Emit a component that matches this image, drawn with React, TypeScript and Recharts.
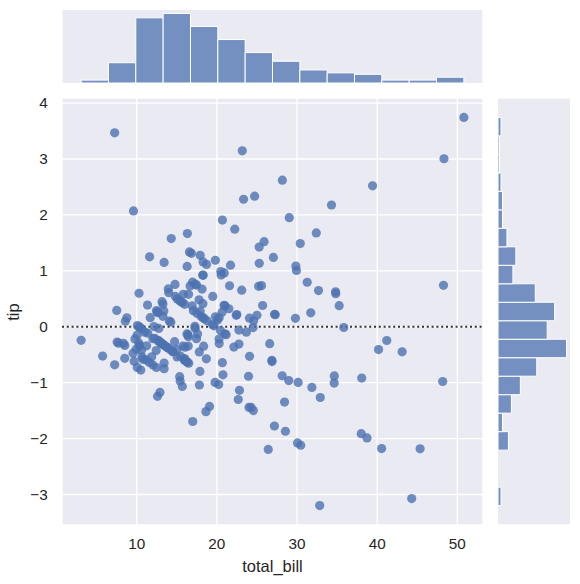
import React from 'react';
import {
  ScatterChart,
  Scatter,
  XAxis,
  YAxis,
  CartesianGrid,
  ReferenceLine,
  ReferenceArea,
  Label,
} from 'recharts';

// ---- data (tips dataset: total_bill, tip) ----
const totalBill = [
  16.99, 10.34, 21.01, 23.68, 24.59, 25.29, 8.77, 26.88, 15.04, 14.78,
  10.27, 35.26, 15.42, 18.43, 14.83, 21.58, 10.33, 16.29, 16.97, 20.65,
  17.92, 20.29, 15.77, 39.42, 19.82, 17.81, 13.37, 12.69, 21.7, 19.65,
  9.55, 18.35, 15.06, 20.69, 17.78, 24.06, 16.31, 16.93, 18.69, 31.27,
  16.04, 17.46, 13.94, 9.68, 30.4, 18.29, 22.23, 32.4, 28.55, 18.04,
  12.54, 10.29, 34.81, 9.94, 25.56, 19.49, 38.01, 26.41, 11.24, 48.27,
  20.29, 13.81, 11.02, 18.29, 17.59, 20.08, 16.45, 3.07, 20.23, 15.01,
  12.02, 17.07, 26.86, 25.28, 14.73, 10.51, 17.92, 27.2, 22.76, 17.29,
  19.44, 16.66, 10.07, 32.68, 15.98, 34.83, 13.03, 18.28, 24.71, 21.16,
  28.97, 22.49, 5.75, 16.32, 22.75, 40.17, 27.28, 12.03, 21.01, 12.46,
  11.35, 15.38, 44.3, 22.42, 20.92, 15.36, 20.49, 25.21, 18.24, 14.31,
  14.0, 7.25, 38.07, 23.95, 25.71, 17.31, 29.93, 10.65, 12.43, 24.08,
  11.69, 13.42, 14.26, 15.95, 12.48, 29.8, 8.52, 14.52, 11.38, 22.82,
  19.08, 20.27, 11.17, 12.26, 18.26, 8.51, 10.33, 14.15, 16.0, 13.16,
  17.47, 34.3, 41.19, 27.05, 16.43, 8.35, 18.64, 11.87, 9.78, 7.51,
  14.07, 13.13, 17.26, 24.55, 19.77, 29.85, 48.17, 25.0, 13.39, 16.49,
  21.5, 12.66, 16.21, 13.81, 17.51, 24.52, 20.76, 31.71, 10.59, 10.63,
  50.81, 15.81, 7.25, 31.85, 16.82, 32.9, 17.89, 14.48, 9.6, 34.63,
  34.65, 23.33, 45.35, 23.17, 40.55, 20.69, 20.9, 30.46, 18.15, 23.1,
  15.69, 19.81, 28.44, 15.48, 16.58, 7.56, 10.34, 43.11, 13.0, 13.51,
  18.71, 12.74, 13.0, 16.4, 20.53, 16.47, 26.59, 38.73, 24.27, 12.76,
  30.06, 25.89, 48.33, 13.27, 28.17, 12.9, 28.15, 11.59, 7.74, 30.14,
  12.16, 13.42, 8.58, 15.98, 13.42, 16.27, 10.09, 20.45, 13.28, 22.12,
  24.01, 15.69, 11.61, 10.77, 15.53, 10.07, 12.6, 32.83, 35.83, 29.03,
  27.18, 22.67, 17.82, 18.78,
];

const tip = [
  1.01, 1.66, 3.5, 3.31, 3.61, 4.71, 2.0, 3.12, 1.96, 3.23,
  1.71, 5.0, 1.57, 3.0, 3.02, 3.92, 1.67, 3.71, 3.5, 3.35,
  4.08, 2.75, 2.23, 7.58, 3.18, 2.34, 2.0, 2.0, 4.3, 3.0,
  1.45, 2.5, 3.0, 2.45, 3.27, 3.6, 2.0, 3.07, 2.31, 5.0,
  2.24, 2.54, 3.06, 1.32, 5.6, 3.0, 5.0, 6.0, 2.05, 3.0,
  2.5, 2.6, 5.2, 1.56, 4.34, 3.51, 3.0, 1.5, 1.76, 6.73,
  3.21, 2.0, 1.98, 3.76, 2.64, 3.15, 2.47, 1.0, 2.01, 2.09,
  1.97, 3.0, 3.14, 5.0, 2.2, 1.25, 3.08, 4.0, 3.0, 2.71,
  3.0, 3.4, 1.83, 5.0, 2.03, 5.17, 2.0, 4.0, 5.85, 3.0,
  3.0, 3.5, 1.0, 4.3, 3.25, 4.73, 4.0, 1.5, 3.0, 1.5,
  2.5, 3.0, 2.5, 3.48, 4.08, 1.64, 4.06, 4.29, 3.76, 4.0,
  3.0, 1.0, 4.0, 2.55, 4.0, 3.5, 5.07, 1.5, 1.8, 2.92,
  2.31, 1.68, 2.5, 2.0, 2.52, 4.2, 1.48, 2.0, 2.0, 2.18,
  1.5, 2.83, 1.5, 2.0, 3.25, 1.25, 2.0, 2.0, 2.0, 2.75,
  3.5, 6.7, 5.0, 5.0, 2.3, 1.5, 1.36, 1.63, 1.73, 2.0,
  2.5, 2.0, 2.74, 2.0, 2.0, 5.14, 5.0, 3.75, 2.61, 2.0,
  3.5, 2.5, 2.0, 2.0, 3.0, 3.48, 2.24, 4.5, 1.61, 2.0,
  10.0, 3.16, 5.15, 3.18, 4.0, 3.11, 2.0, 2.0, 4.0, 3.55,
  3.68, 5.65, 3.5, 6.5, 3.0, 5.0, 3.5, 2.0, 3.5, 4.0,
  1.5, 4.19, 2.56, 2.02, 4.0, 1.44, 2.0, 5.0, 2.0, 2.0,
  4.0, 2.01, 2.0, 2.5, 4.0, 3.23, 3.41, 3.0, 2.03, 2.23,
  2.0, 5.16, 9.0, 2.5, 6.5, 1.1, 3.0, 1.5, 1.44, 3.09,
  2.2, 3.48, 1.92, 3.0, 1.58, 2.5, 2.0, 3.0, 2.72, 2.88,
  2.0, 3.0, 3.39, 1.47, 3.0, 1.25, 1.0, 1.17, 4.67, 5.92,
  2.0, 2.0, 1.75, 3.0,
];

const xTicks = [10, 20, 30, 40, 50];
const yTicks = [-3, -2, -1, 0, 1, 2, 3, 4];

const xLabel = 'total_bill';
const yLabel = 'tip';

// ---- derived tables (residuals of a linear fit, histogram bins) ----
function fitLine(xs: number[], ys: number[]) {
  const n = xs.length;
  const mx = xs.reduce((a, b) => a + b, 0) / n;
  const my = ys.reduce((a, b) => a + b, 0) / n;
  let sxy = 0;
  let sxx = 0;
  for (let i = 0; i < n; i++) {
    sxy += (xs[i] - mx) * (ys[i] - my);
    sxx += (xs[i] - mx) * (xs[i] - mx);
  }
  const slope = sxy / sxx;
  return { slope, intercept: my - slope * mx };
}

const fit = fitLine(totalBill, tip);
const residuals = tip.map((t, i) => t - (fit.intercept + fit.slope * totalBill[i]));
const points = totalBill.map((x, i) => ({ x, y: residuals[i] }));

function percentile(sorted: number[], p: number) {
  const idx = p * (sorted.length - 1);
  const lo = Math.floor(idx);
  const hi = Math.ceil(idx);
  return sorted[lo] + (sorted[hi] - sorted[lo]) * (idx - lo);
}

function histogram(vals: number[]) {
  const sorted = [...vals].sort((a, b) => a - b);
  const n = sorted.length;
  const lo = sorted[0];
  const hi = sorted[n - 1];
  const range = hi - lo;
  const sturges = range / (Math.log2(n) + 1);
  const iqr = percentile(sorted, 0.75) - percentile(sorted, 0.25);
  const fd = 2 * iqr * Math.pow(n, -1 / 3);
  const width = fd > 0 ? Math.min(fd, sturges) : sturges;
  const nb = Math.max(1, Math.ceil(range / width));
  const counts = new Array(nb).fill(0);
  vals.forEach((v) => {
    let k = Math.floor(((v - lo) / range) * nb);
    if (k >= nb) k = nb - 1;
    if (k < 0) k = 0;
    counts[k] += 1;
  });
  return counts.map((c, i) => ({
    lo: lo + (range * i) / nb,
    hi: lo + (range * (i + 1)) / nb,
    count: c,
  }));
}

const xBins = histogram(totalBill);
const yBins = histogram(residuals);

function padded(vals: number[]): [number, number] {
  const mn = Math.min(...vals);
  const mx = Math.max(...vals);
  const pad = (mx - mn) * 0.05;
  return [mn - pad, mx + pad];
}

const xDomain = padded(totalBill);
const yDomain = padded(residuals);
const topMax = Math.max(...xBins.map((b) => b.count)) * 1.05;
const rightMax = Math.max(...yBins.map((b) => b.count)) * 1.05;

const topAnchors = xBins.map((b) => ({ x: (b.lo + b.hi) / 2, y: b.count }));
const rightAnchors = yBins.map((b) => ({ x: b.count, y: (b.lo + b.hi) / 2 }));

// ---- styles ----
const BG = '#EAEAF2';
const BLUE = '#4C72B0';
const TEXT = '#262626';
const FONT = '"Liberation Sans", Arial, Helvetica, sans-serif';

const fmtTick = (v: number) => (v < 0 ? '\u2212' + String(-v) : String(v));
const Nothing = () => <g />;
const Dot = (props: any) => (
  <circle cx={props.cx} cy={props.cy} r={4.6} fill={BLUE} fillOpacity={0.8} stroke="none" />
);

export default function App() {
  return (
    <div style={{ position: 'absolute', left: 0, top: 0, width: 580, height: 584, background: '#fff', fontFamily: FONT }}>
      {/* top marginal histogram */}
      <div style={{ position: 'absolute', left: 62, top: 10, width: 421, height: 73 }}>
        <ScatterChart width={421} height={73} margin={{ top: 0, right: 0, bottom: 0, left: 0 }}>
          <CartesianGrid stroke="#fff" strokeWidth={1.3} fill={BG} fillOpacity={1} horizontal={false} vertical />
          <XAxis
            type="number"
            dataKey="x"
            domain={xDomain}
            allowDataOverflow
            ticks={xTicks}
            interval={0}
            height={0}
            tick={false}
            tickLine={false}
            axisLine={false}
          />
          <YAxis
            type="number"
            dataKey="y"
            domain={[0, topMax]}
            allowDataOverflow
            width={0}
            tick={false}
            tickLine={false}
            axisLine={false}
          />
          {xBins
            .filter((b) => b.count > 0)
            .map((b, i) => (
              <ReferenceArea
                key={'xb' + i}
                x1={b.lo}
                x2={b.hi}
                y1={0}
                y2={b.count}
                fill={BLUE}
                fillOpacity={0.75}
                stroke="#fff"
                strokeWidth={1}
                strokeOpacity={1}
              />
            ))}
          <Scatter data={topAnchors} shape={Nothing} isAnimationActive={false} />
        </ScatterChart>
      </div>

      {/* right marginal histogram */}
      <div style={{ position: 'absolute', left: 498, top: 98, width: 72, height: 427 }}>
        <ScatterChart width={72} height={427} margin={{ top: 0, right: 0, bottom: 0, left: 0 }}>
          <CartesianGrid stroke="#fff" strokeWidth={1.3} fill={BG} fillOpacity={1} horizontal vertical={false} />
          <XAxis
            type="number"
            dataKey="x"
            domain={[0, rightMax]}
            allowDataOverflow
            height={0}
            tick={false}
            tickLine={false}
            axisLine={false}
          />
          <YAxis
            type="number"
            dataKey="y"
            domain={yDomain}
            allowDataOverflow
            ticks={yTicks}
            interval={0}
            width={0}
            tick={false}
            tickLine={false}
            axisLine={false}
          />
          {yBins
            .filter((b) => b.count > 0)
            .map((b, i) => (
              <ReferenceArea
                key={'yb' + i}
                x1={0}
                x2={b.count}
                y1={b.lo}
                y2={b.hi}
                fill={BLUE}
                fillOpacity={0.75}
                stroke="#fff"
                strokeWidth={1}
                strokeOpacity={1}
              />
            ))}
          <Scatter data={rightAnchors} shape={Nothing} isAnimationActive={false} />
        </ScatterChart>
      </div>

      {/* joint residual plot */}
      <div style={{ position: 'absolute', left: 0, top: 90, width: 490, height: 494 }}>
        <ScatterChart width={490} height={494} margin={{ top: 8, right: 7, bottom: 0, left: 0 }}>
          <CartesianGrid stroke="#fff" strokeWidth={1.3} fill={BG} fillOpacity={1} />
          <XAxis
            type="number"
            dataKey="x"
            domain={xDomain}
            allowDataOverflow
            ticks={xTicks}
            interval={0}
            tickLine={false}
            axisLine={false}
            tickSize={0}
            tickMargin={13.5}
            height={59}
            tickFormatter={fmtTick}
            tick={{ fill: TEXT, fontSize: 15.3, fontFamily: FONT }}
          >
            <Label
              content={() => (
                <text x={272.5} y={481.5} textAnchor="middle" fill={TEXT} fontSize={16.5} fontFamily={FONT}>
                  {xLabel}
                </text>
              )}
            />
          </XAxis>
          <YAxis
            type="number"
            dataKey="y"
            domain={yDomain}
            allowDataOverflow
            ticks={yTicks}
            interval={0}
            tickLine={false}
            axisLine={false}
            tickSize={0}
            tickMargin={14.3}
            width={62}
            tickFormatter={fmtTick}
            tick={{ fill: TEXT, fontSize: 15.3, fontFamily: FONT }}
          >
            <Label
              content={() => (
                <text
                  x={19}
                  y={222}
                  textAnchor="middle"
                  fill={TEXT}
                  fontSize={16.5}
                  fontFamily={FONT}
                  transform="rotate(-90, 19, 222)"
                >
                  {yLabel}
                </text>
              )}
            />
          </YAxis>
          <Scatter data={points} shape={Dot} isAnimationActive={false} />
          <ReferenceLine y={0} stroke="#333333" strokeWidth={2} strokeDasharray="2 2.8" />
        </ScatterChart>
      </div>
    </div>
  );
}
